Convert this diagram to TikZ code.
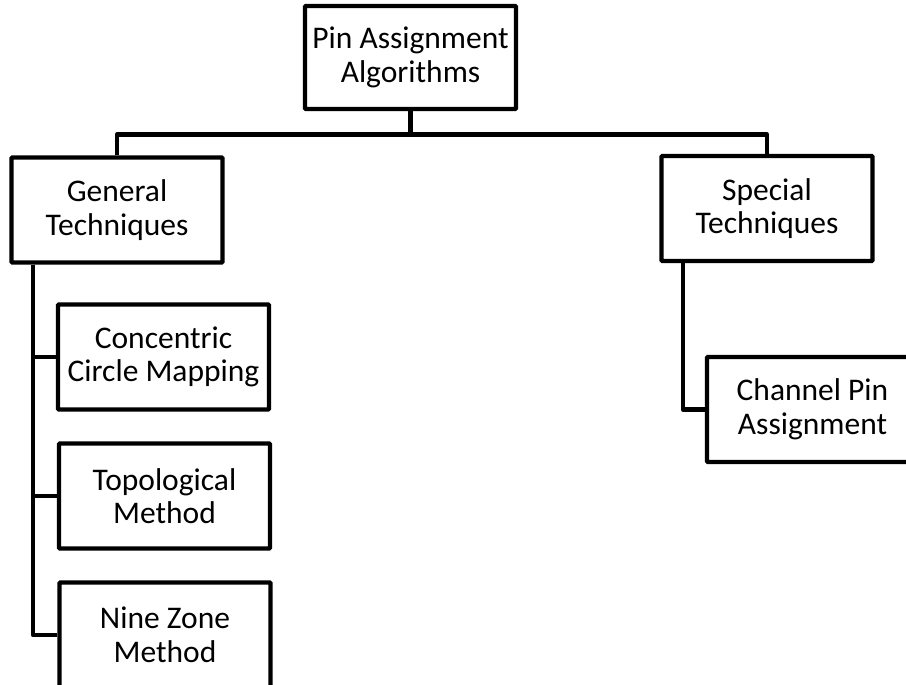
\documentclass[tikz,border=0pt]{standalone}
\usepackage{fontspec}
\setmainfont{Carlito}
\begin{document}
\begin{tikzpicture}[x=1pt,y=-1pt,
  box/.style={draw=black, line width=4.3pt, rounded corners=1pt, minimum width=211pt, minimum height=105pt,
    align=center, inner sep=0pt, font=\fontsize{31.5pt}{33.5pt}\selectfont, text=black},
  link/.style={draw=black, line width=4.3pt, line join=round}]
\clip (0,0) rectangle (906,685);
\fill[white] (0,0) rectangle (906,685);
\node[box, minimum height=103pt] (top) at (410.5,57.5) {Pin Assignment\\Algorithms};
\node[box] (gen) at (117,210) {General\\Techniques};
\node[box] (spe) at (767,208.5) {Special\\Techniques};
\node[box] (cc) at (163.5,357) {Concentric\\Circle Mapping};
\node[box] (tm) at (164.5,496) {Topological\\Method};
\node[box] (nz) at (165,635) {Nine Zone\\Method};
\node[box] (ch) at (812.5,409.5) {Channel Pin\\Assignment};
\coordinate (j) at (410.5,134.5);
\coordinate (gx) at (33,0);
\coordinate (sx) at (683,0);
\draw[link] (top.south) -- (j) -| (gen.north);
\draw[link] (j) -| (spe.north);
\draw[link] (gx |- gen.south) |- (cc.west);
\draw[link] (gx |- gen.south) |- (tm.west);
\draw[link] (gx |- gen.south) |- (nz.west);
\draw[link] (sx |- spe.south) |- (ch.west);
\end{tikzpicture}
\end{document}
